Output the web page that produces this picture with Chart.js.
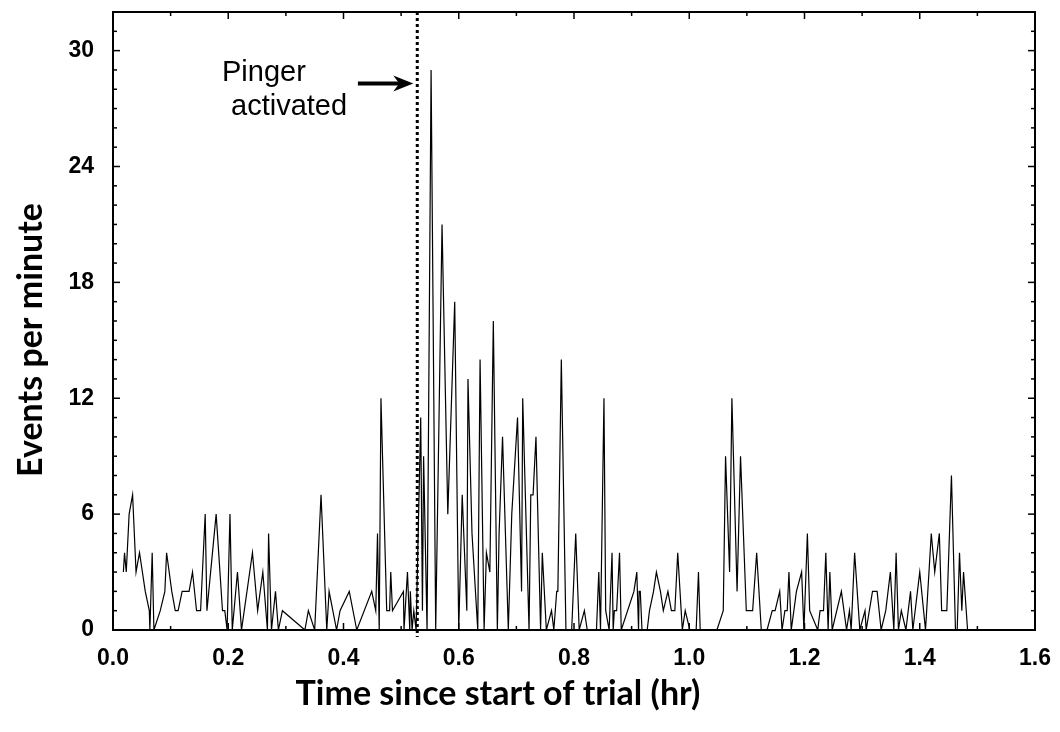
<!DOCTYPE html>
<html lang="en">
<head>
    <meta charset="UTF-8">
    <title>Events per minute</title>
    <script src="https://cdn.jsdelivr.net/npm/chart.js"></script>
    <style>
        body { margin: 0; background: #fff; }
    </style>
</head>
<body>
    <canvas id="eventsChart" width="1060" height="732"></canvas>

    <script>
        // time since start of trial (hr) and events per minute
        const times = [
            0.018, 0.020, 0.023, 0.028, 0.034, 0.040, 0.046, 0.056, 0.063, 0.064,
            0.068, 0.071, 0.082, 0.090, 0.093, 0.102, 0.108, 0.113, 0.120, 0.132,
            0.138, 0.145, 0.152, 0.160, 0.163, 0.179, 0.190, 0.194, 0.198, 0.203,
            0.207, 0.216, 0.223, 0.242, 0.251, 0.260, 0.268, 0.270, 0.275, 0.282,
            0.287, 0.294, 0.333, 0.339, 0.350, 0.361, 0.371, 0.375, 0.388, 0.394,
            0.410, 0.423, 0.449, 0.456, 0.459, 0.462, 0.465, 0.475, 0.480, 0.482,
            0.485, 0.504, 0.505, 0.511, 0.515, 0.516, 0.519, 0.522, 0.526, 0.534,
            0.537, 0.539, 0.545, 0.552, 0.560, 0.571, 0.581, 0.593, 0.600, 0.606,
            0.614, 0.616, 0.623, 0.633, 0.637, 0.644, 0.648, 0.654, 0.660, 0.667,
            0.670, 0.676, 0.686, 0.692, 0.702, 0.709, 0.711, 0.722, 0.725, 0.729,
            0.734, 0.742, 0.745, 0.752, 0.761, 0.765, 0.770, 0.772, 0.778, 0.786,
            0.796, 0.803, 0.809, 0.818, 0.823, 0.839, 0.843, 0.846, 0.852, 0.855,
            0.861, 0.866, 0.868, 0.870, 0.874, 0.879, 0.882, 0.904, 0.909, 0.912,
            0.913, 0.915, 0.918, 0.927, 0.931, 0.938, 0.943, 0.950, 0.955, 0.963,
            0.969, 0.975, 0.980, 0.988, 0.993, 1.001, 1.012, 1.016, 1.019, 1.048,
            1.059, 1.063, 1.070, 1.074, 1.083, 1.089, 1.099, 1.110, 1.117, 1.125,
            1.135, 1.144, 1.149, 1.157, 1.161, 1.166, 1.170, 1.173, 1.177, 1.186,
            1.195, 1.199, 1.205, 1.209, 1.223, 1.227, 1.233, 1.237, 1.241, 1.244,
            1.248, 1.264, 1.273, 1.278, 1.281, 1.287, 1.296, 1.305, 1.307, 1.318,
            1.326, 1.333, 1.341, 1.349, 1.355, 1.359, 1.363, 1.368, 1.376, 1.384,
            1.388, 1.400, 1.410, 1.420, 1.426, 1.434, 1.438, 1.447, 1.455, 1.462,
            1.465, 1.469, 1.473, 1.476, 1.483
        ];
        const events = [
            3, 4, 3, 6, 7, 3, 4, 2, 1, 0,
            4, 0, 1, 2, 4, 2, 1, 1, 2, 2,
            3, 1, 1, 6, 1, 6, 1, 1, 0, 6,
            0, 3, 0, 4, 1, 3, 0, 5, 0, 2,
            0, 1, 0, 1, 0, 7, 0, 2, 0, 1,
            2, 0, 2, 1, 5, 0, 12, 1, 1, 3,
            1, 2, 0, 3, 0, 2, 0, 1, 0, 11,
            1, 9, 0, 29, 0, 21, 6, 17, 0, 7,
            1, 13, 5, 0, 14, 0, 4, 3, 16, 0,
            5, 10, 0, 6, 11, 2, 12, 0, 7, 7,
            10, 0, 4, 0, 1, 0, 2, 2, 14, 0,
            0, 5, 0, 1, 0, 0, 3, 0, 12, 1,
            0, 4, 0, 1, 1, 4, 0, 2, 3, 0,
            2, 2, 0, 0, 1, 2, 3, 2, 1, 2,
            1, 1, 4, 0, 1, 0, 0, 3, 0, 0,
            1, 9, 3, 12, 2, 9, 1, 1, 4, 0,
            0, 1, 1, 2, 0, 1, 1, 3, 0, 2,
            3, 0, 5, 1, 0, 1, 1, 4, 0, 3,
            0, 2, 0, 1, 0, 4, 0, 1, 0, 2,
            2, 0, 1, 3, 0, 4, 0, 1, 0, 2,
            0, 3, 0, 5, 3, 5, 1, 1, 8, 0,
            0, 4, 1, 3, 0
        ];

        const xTicks = [0.0, 0.2, 0.4, 0.6, 0.8, 1.0, 1.2, 1.4, 1.6];
        const yTicks = [0, 6, 12, 18, 24, 30];

        // pinger switched on here (hr); arrow drawn at this height
        const pingerTime = 0.528;
        const arrowLevel = 28.3;
        const arrowStart = 0.425;

        const points = times.map((t, i) => ({ x: t, y: events[i] }));

        // frame, inward ticks, dotted marker, arrow and titles
        const extras = {
            id: 'extras',
            afterDatasetsDraw(chart) {
                const { ctx, chartArea: a, scales: { x, y } } = chart;
                ctx.save();
                // dotted line at pinger time
                const px = x.getPixelForValue(pingerTime);
                ctx.strokeStyle = '#000';
                ctx.lineWidth = 3;
                ctx.setLineDash([3, 3]);
                ctx.beginPath();
                ctx.moveTo(px, a.top);
                ctx.lineTo(px, a.bottom + 7);
                ctx.stroke();
                ctx.setLineDash([]);

                // arrow
                const ay = y.getPixelForValue(arrowLevel);
                const ax0 = x.getPixelForValue(arrowStart);
                const tip = px - 4;
                ctx.lineWidth = 4;
                ctx.beginPath();
                ctx.moveTo(ax0, ay);
                ctx.lineTo(tip - 10, ay);
                ctx.stroke();
                ctx.beginPath();
                ctx.moveTo(tip, ay);
                ctx.lineTo(tip - 20, ay - 8);
                ctx.lineTo(tip - 14, ay);
                ctx.lineTo(tip - 20, ay + 8);
                ctx.closePath();
                ctx.fillStyle = '#000';
                ctx.fill();

                ctx.font = '29px "Liberation Sans", Arial, sans-serif';
                ctx.textAlign = 'left';
                ctx.textBaseline = 'alphabetic';
                ctx.fillText('Pinger', 222, 81);
                ctx.fillText('activated', 231, 115);
                ctx.restore();
            },
            afterDraw(chart) {
                const { ctx, chartArea: a, scales: { x, y } } = chart;
                ctx.save();
                ctx.strokeStyle = '#000';
                ctx.lineWidth = 2;
                ctx.strokeRect(a.left, a.top, a.right - a.left, a.bottom - a.top);

                ctx.lineWidth = 1.5;
                const seg = (x1, y1, x2, y2) => {
                    ctx.beginPath(); ctx.moveTo(x1, y1); ctx.lineTo(x2, y2); ctx.stroke();
                };
                for (let v = 0; v <= 32; v++) {
                    const py = y.getPixelForValue(v);
                    const len = v % 6 === 0 ? 7 : 4;
                    seg(a.left, py, a.left + len, py);
                    seg(a.right, py, a.right - len, py);
                }
                for (let k = 0; k <= 16; k++) {
                    const pxx = x.getPixelForValue(k / 10);
                    const len = k % 2 === 0 ? 7 : 4;
                    seg(pxx, a.bottom, pxx, a.bottom - len);
                    seg(pxx, a.top, pxx, a.top + len);
                }

                // axis titles
                ctx.fillStyle = '#000';
                ctx.font = 'bold 34px Lato, "Open Sans", sans-serif';
                ctx.textAlign = 'center';
                ctx.textBaseline = 'middle';
                ctx.fillText('Time since start of trial (hr)', 498, 694);
                ctx.translate(31, 340);
                ctx.rotate(-Math.PI / 2);
                ctx.fillText('Events per minute', 0, 0);
                ctx.restore();
            }
        };

        const tickFont = { family: 'Liberation Sans, Arial, sans-serif', size: 23, weight: 'bold' };

        const ctx = document.getElementById('eventsChart').getContext('2d');
        new Chart(ctx, {
            type: 'scatter',
            data: {
                datasets: [{
                    data: points,
                    showLine: true,
                    borderColor: '#000',
                    borderWidth: 1.2,
                    pointRadius: 0,
                    tension: 0
                }]
            },
            options: {
                responsive: false,
                animation: false,
                layout: { autoPadding: false, padding: { top: 12, right: 25, left: 0, bottom: 0 } },
                plugins: {
                    legend: { display: false },
                    tooltip: { enabled: false }
                },
                scales: {
                    x: {
                        type: 'linear',
                        min: 0,
                        max: 1.6,
                        grid: { display: false },
                        border: { display: false },
                        afterFit: s => {
                            s.height = 102;
                            s.paddingLeft = 0;
                            s.paddingRight = 0;
                        },
                        afterBuildTicks: s => { s.ticks = xTicks.map(v => ({ value: v })); },
                        ticks: {
                            padding: 7,
                            color: '#000',
                            font: tickFont,
                            callback: v => v.toFixed(1)
                        }
                    },
                    y: {
                        min: 0,
                        max: 32,
                        grid: { display: false },
                        border: { display: false },
                        afterFit: s => {
                            s.width = 113;
                            s.paddingTop = 0;
                            s.paddingBottom = 0;
                        },
                        afterBuildTicks: s => { s.ticks = yTicks.map(v => ({ value: v })); },
                        ticks: {
                            padding: 11,
                            color: '#000',
                            font: tickFont
                        }
                    }
                }
            },
            plugins: [extras]
        });
    </script>
</body>
</html>
